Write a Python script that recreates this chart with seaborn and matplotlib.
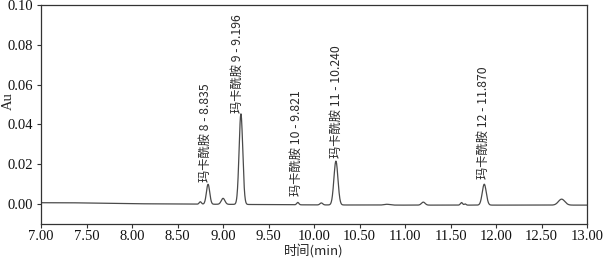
import numpy as np
import pandas as pd
import seaborn as sns
import matplotlib
matplotlib.use("Agg")
import matplotlib.pyplot as plt

# Peak table (retention time, height in Au, half-width in min)
peak_times = [8.75, 8.835, 9.00, 9.196, 9.821, 10.08, 10.240, 10.80, 11.20, 11.62, 11.66, 11.870, 12.72]
peak_heights = [0.0012, 0.0100, 0.0030, 0.0455, 0.0012, 0.0010, 0.0220, 0.0004, 0.0015, 0.0013, 0.0006, 0.0105, 0.0030]
peak_widths = [0.012, 0.018, 0.020, 0.020, 0.012, 0.015, 0.022, 0.03, 0.02, 0.012, 0.01, 0.022, 0.035]
baseline_t = [7.00, 7.30, 8.00, 9.00, 10.00, 11.00, 12.00, 13.00]
baseline_v = [0.0007, 0.0007, 0.0002, -0.0001, -0.0004, -0.0005, -0.0005, -0.0005]

labels = ["玛卡酰胺 8 - 8.835", "玛卡酰胺 9 - 9.196", "玛卡酰胺 10 - 9.821",
          "玛卡酰胺 11 - 10.240", "玛卡酰胺 12 - 11.870"]
label_x = [8.80, 9.16, 9.81, 10.25, 11.86]
label_y = [0.0110, 0.0455, 0.0040, 0.0230, 0.0128]

xticks = [7.00, 7.50, 8.00, 8.50, 9.00, 9.50, 10.00, 10.50, 11.00, 11.50, 12.00, 12.50, 13.00]
yticks = [0.00, 0.02, 0.04, 0.06, 0.08, 0.10]

t = np.linspace(7.0, 13.0, 3000)
signal = np.interp(t, baseline_t, baseline_v)
for c, h, w in zip(peak_times, peak_heights, peak_widths):
    signal = signal + h * np.exp(-0.5 * ((t - c) / w) ** 2)
df = pd.DataFrame({"time": t, "Au": signal})

sns.set_theme(style="white")
plt.rcParams['font.family'] = ['Liberation Serif', 'Noto Sans CJK SC']

fig = plt.figure(figsize=(6.04, 2.59), dpi=100)
ax = fig.add_axes([0.068, 0.135, 0.904, 0.846])
sns.lineplot(data=df, x="time", y="Au", ax=ax, color="#4a4a4a", linewidth=0.9)

for lx, ly, lab in zip(label_x, label_y, labels):
    ax.text(lx, ly, lab, rotation=90, ha="center", va="bottom", fontsize=8.8,
            family=['Noto Sans CJK SC', 'DejaVu Sans'], color="#2a2a2a")

ax.set_xlim(7.0, 13.0)
ax.set_ylim(-0.01, 0.10)
ax.set_xticks(xticks)
ax.set_xticklabels([f"{v:.2f}" for v in xticks], fontsize=10.5)
ax.set_yticks(yticks)
ax.set_yticklabels([f"{v:.2f}" for v in yticks], fontsize=10.5)
ax.set_xlabel("时间(min)", fontsize=9.5, family=['Noto Sans CJK SC', 'Liberation Serif'])
ax.set_ylabel("Au", fontsize=10.5)
ax.xaxis.set_label_coords(0.5, -0.094)
ax.yaxis.set_label_coords(-0.048, 0.56)
for s in ax.spines.values():
    s.set_color("#333333")
    s.set_linewidth(0.9)
ax.tick_params(axis="x", pad=1.5)
ax.tick_params(axis="both", length=3, width=0.8, color="#333333", direction="out",
               bottom=True, left=True, labelcolor="#111111")
ax.tick_params(axis="y", pad=2.5)
fig.savefig("out.png", dpi=100)
